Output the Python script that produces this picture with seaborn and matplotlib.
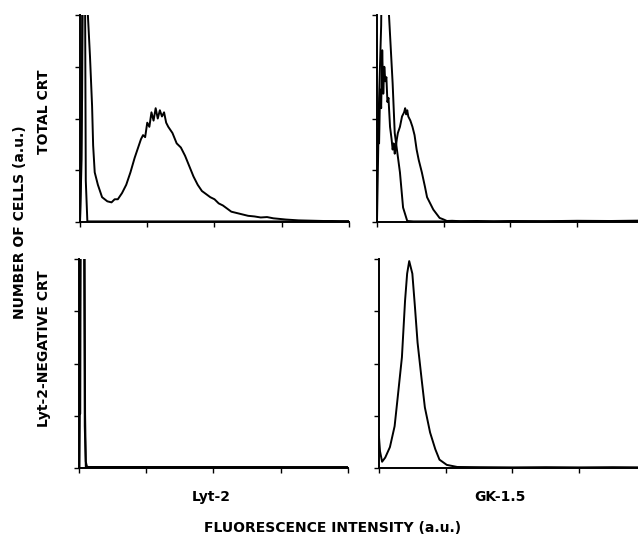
import numpy as np
import seaborn as sns
import matplotlib.pyplot as plt

# channel (x) and cell counts (y, % of panel height)

# top left: Lyt-2 staining of total CRT
tl_ch = [0, 2, 3, 6, 7.5, 9.5, 11.5, 12.5, 14, 17, 21, 26, 30, 33, 36, 40, 44, 48, 52, 56,
         58, 60, 62, 64, 66, 68, 70, 72, 74, 76, 78, 80, 82, 84, 88, 92, 96, 100, 104, 108,
         112, 116, 120, 124, 128, 132, 136, 140, 144, 148, 152, 156, 160, 166, 172, 178, 184,
         190, 196, 202, 208, 216, 224, 232, 240, 248, 256]
tl_cnt = [0, 60, 150, 150, 100, 80, 56, 37, 24, 18, 12, 10, 9.5, 11, 11, 14, 18, 24, 31, 37,
          40, 42, 41, 48, 46, 53, 49, 55, 50, 54, 51, 53, 48, 46, 43, 38, 36, 32, 27, 22,
          18, 15, 13.5, 12, 11, 9, 8, 6.5, 5, 4.5, 4, 3.5, 3, 2.7, 2.2, 2.4, 1.8,
          1.5, 1.2, 1.0, 0.8, 0.7, 0.6, 0.5, 0.5, 0.4, 0.4]
tl_ctrl_ch = [0, 1.5, 2.5, 3.5, 4.5, 5.5, 7, 256]
tl_ctrl_cnt = [0, 30, 150, 150, 150, 20, 0.3, 0.3]

# top right: GK-1.5 staining of total CRT
tr_ch = [0, 1, 2, 3, 4, 5, 6, 7, 8, 9, 10, 11, 12.5, 14, 15, 16, 17, 18, 19, 20,
         22, 24, 26, 27, 28, 29, 30, 32, 34, 36, 38, 40, 43, 46, 48, 51, 54, 57, 60, 64,
         67, 72, 80, 96, 112, 128, 160, 192, 224, 256]
tr_cnt = [27, 45, 38, 64, 55, 83, 62, 75, 68, 70, 58, 60, 46, 40, 35, 38, 33, 36, 40, 43,
          46, 51, 53, 55, 52, 54, 51, 49, 46, 42, 35, 30, 24, 17, 12, 9, 6, 4, 2, 1.2,
          0.5, 0.6, 0.4, 0.5, 0.3, 0.5, 0.4, 0.6, 0.5, 0.7]
tr_ctrl_ch = [0, 2, 4, 5, 10, 11.5, 15, 17, 22, 25, 29, 35, 256]
tr_ctrl_cnt = [0, 60, 95, 150, 150, 100, 67, 43, 24, 7, 0.5, 0.3, 0.3]

# bottom left: Lyt-2 staining of Lyt-2-negative CRT
bl_ch = [0, 0.5, 1.2, 1.8, 5.2, 5.8, 6.5, 7.5, 9, 256]
bl_cnt = [0, 26, 26, 150, 150, 26, 3, 0.8, 0.4, 0.4]
bl_ctrl_ch = [0.5, 1.5, 2.5, 3.5, 4.5, 5.5, 6.5, 256]
bl_ctrl_cnt = [0, 150, 150, 150, 150, 20, 0.5, 0.4]

# bottom right: GK-1.5 staining of Lyt-2-negative CRT
br_ch = [0, 1, 3, 6, 10.5, 15, 18, 22, 25, 27, 29, 32, 34.5, 37, 41, 44, 49, 54, 58, 65,
         75, 96, 128, 160, 192, 224, 256]
br_cnt = [15, 8, 3, 5, 10, 20, 34, 53, 80, 93, 99, 93, 77, 60, 42, 29, 17, 9, 4, 1.5,
          0.5, 0.4, 0.3, 0.4, 0.3, 0.4, 0.3]

x_ticks = [0, 64, 128, 192, 256]
y_ticks = [0, 25, 50, 75, 100]

sns.set_theme(style="ticks")
plt.rcParams['font.family'] = ['DejaVu Sans']

fig = plt.figure(figsize=(6.38, 5.47), dpi=100)

# axes boxes in figure fraction (right column runs off the page like the scan)
boxes = {
    "tl": [0.1254, 0.5941, 0.4216, 0.3784],
    "tr": [0.5909, 0.5941, 0.4185, 0.3784],
    "bl": [0.1238, 0.1444, 0.4216, 0.3821],
    "br": [0.5940, 0.1444, 0.4185, 0.3821],
}
curves = {
    "tl": [(tl_ctrl_ch, tl_ctrl_cnt), (tl_ch, tl_cnt)],
    "tr": [(tr_ctrl_ch, tr_ctrl_cnt), (tr_ch, tr_cnt)],
    "bl": [(bl_ctrl_ch, bl_ctrl_cnt), (bl_ch, bl_cnt)],
    "br": [(br_ch, br_cnt)],
}

for key, box in boxes.items():
    ax = fig.add_axes(box)
    for ch, cnt in curves[key]:
        sns.lineplot(x=np.array(ch), y=np.array(cnt), ax=ax, color="black",
                     linewidth=1.4, sort=False, estimator=None)
    ax.set_xlim(0, 256)
    ax.set_ylim(0, 100)
    ax.set_xticks(x_ticks)
    ax.set_yticks(y_ticks)
    ax.set_xticklabels([])
    ax.set_yticklabels([])
    ax.set_xlabel("")
    ax.set_ylabel("")
    for side in ["top", "right"]:
        ax.spines[side].set_visible(False)
    for side in ["left", "bottom"]:
        ax.spines[side].set_linewidth(1.4)
        ax.spines[side].set_color("black")
    ax.tick_params(direction="out", length=3.5, width=1.0, color="black")

txt = dict(fontweight="bold", fontsize=10, color="black", ha="center", va="center")
fig.text(0.331, 0.092, "Lyt-2", **txt)
fig.text(0.784, 0.092, "GK-1.5", **txt)
fig.text(0.522, 0.035, "FLUORESCENCE INTENSITY (a.u.)", **txt)
fig.text(0.031, 0.594, "NUMBER OF CELLS (a.u.)", rotation=90, **txt)
fig.text(0.069, 0.795, "TOTAL CRT", rotation=90, **txt)
fig.text(0.069, 0.362, "Lyt-2-NEGATIVE CRT", rotation=90, **txt)

plt.savefig("out.png", dpi=100)
plt.close()
